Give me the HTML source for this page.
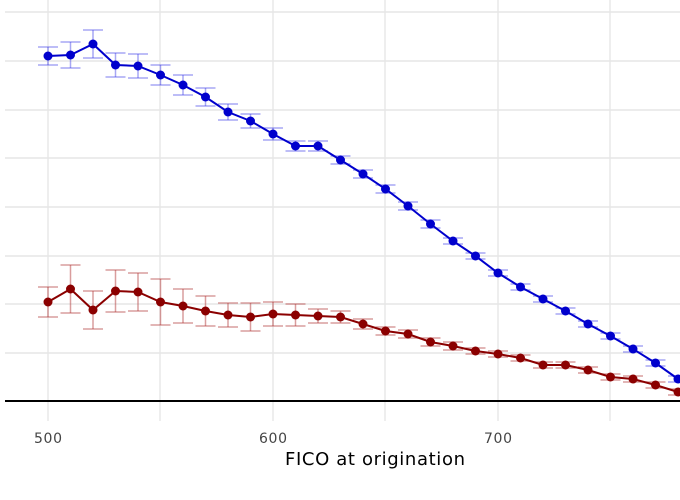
<!DOCTYPE html>
<html><head><meta charset="utf-8"><style>html,body{margin:0;padding:0;background:#fff;}svg{display:block;}</style></head>
<body>
<svg id="c" width="680" height="500" xmlns="http://www.w3.org/2000/svg" font-family="'DejaVu Sans','Liberation Sans',sans-serif">
<g id="grid" stroke="#e6e6e6" stroke-width="1.4"></g>
<line x1="5" y1="401" x2="680" y2="401" stroke="#000" stroke-width="2"/>
<g id="data"></g>
<g fill="#444" font-size="14" text-anchor="middle">
<text x="48" y="443" textLength="28">500</text><text x="273" y="443" textLength="28">600</text><text x="498" y="443" textLength="28">700</text>
</g>
<text x="375" y="465" font-size="18" text-anchor="middle" fill="#000" textLength="180">FICO at origination</text>
</svg>
<script>
var NS="http://www.w3.org/2000/svg";
function el(p,t,a){var e=document.createElementNS(NS,t);for(var k in a)e.setAttribute(k,a[k]);p.appendChild(e);return e;}
var g=document.getElementById('grid');
[12,61,110,158,207,256,304,353].forEach(function(y){el(g,'line',{x1:5,x2:680,y1:y,y2:y});});
[48,160,273,385,498,610].forEach(function(x){el(g,'line',{x1:x,x2:x,y1:0,y2:421});});
var blue=[56,55,44,65,66,75,85,97,112,121,134,146,146,160,174,189,206,224,241,256,273,287,299,311,324,336,349,363,379];
var bErr=[9,13,14,12,12,10,10,9,8,7,6,5,5,4,4,4,4,4,3,3,3,3,3,3,3,3,3,3,3];
var red=[302,289,310,291,292,302,306,311,315,317,314,315,316,317,324,331,334,342,346,351,354,358,365,365,370,377,379,385,392];
var rErr=[15,24,19,21,19,23,17,15,12,14,12,11,7,6,5,4,4,4,4,3,3,3,3,3,3,3,3,3,3];
var d=document.getElementById('data');
function series(ys,es,col,ec){
  var gb=el(d,'g',{stroke:ec,'stroke-width':1.5,fill:'none'});
  ys.forEach(function(y,i){var x=48+22.5*i,e=es[i];
    el(gb,'line',{x1:x,x2:x,y1:y-e,y2:y+e});
    el(gb,'line',{x1:x-10,x2:x+10,y1:y-e,y2:y-e});
    el(gb,'line',{x1:x-10,x2:x+10,y1:y+e,y2:y+e});});
  el(d,'polyline',{points:ys.map(function(y,i){return (48+22.5*i)+','+y;}).join(' '),stroke:col,'stroke-width':2,fill:'none'});
  ys.forEach(function(y,i){el(d,'circle',{cx:48+22.5*i,cy:y,r:4.5,fill:col});});
}
series(red,rErr,'#8b0000','rgba(180,60,60,0.5)');
series(blue,bErr,'#0000cd','rgba(60,60,230,0.45)');
</script>
</body></html>
